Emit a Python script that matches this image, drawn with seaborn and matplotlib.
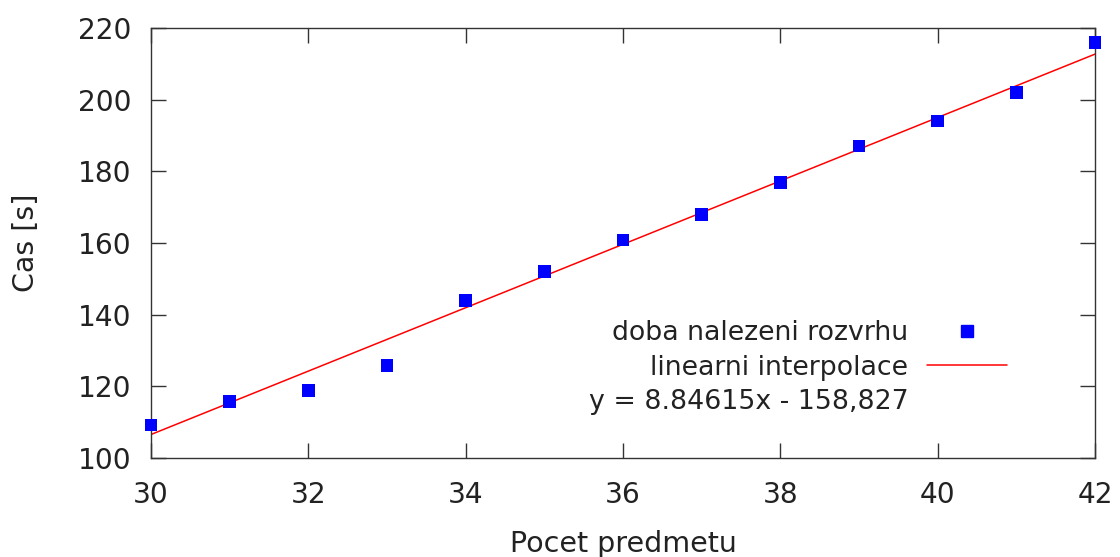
import matplotlib
matplotlib.use("Agg")
import matplotlib.pyplot as plt
from matplotlib.lines import Line2D
import seaborn as sns
import numpy as np
import pandas as pd

# data
pocet = [30, 31, 32, 33, 34, 35, 36, 37, 38, 39, 40, 41, 42]
cas = [109.2, 115.8, 118.8, 125.8, 143.9, 152.0, 160.9, 167.9, 176.9, 187.0, 194.0, 202.0, 216.0]
fit_slope = 8.84615
fit_intercept = -158.827
fit_x = [30, 42]
x_ticks = [30, 32, 34, 36, 38, 40, 42]
y_ticks = [100, 120, 140, 160, 180, 200, 220]
label_points = "doba nalezeni rozvrhu"
label_line = "linearni interpolace"
label_eq = "y = 8.84615x - 158,827"

sns.set_theme(style="ticks")
plt.rcParams['font.family'] = ['DejaVu Sans']

df = pd.DataFrame({"x": pocet, "y": cas})
fit_df = pd.DataFrame({"x": fit_x, "y": [fit_slope * v + fit_intercept for v in fit_x]})

fig = plt.figure(figsize=(11.2, 5.57), dpi=100)
ax = fig.add_axes([151 / 1120, 1 - 458 / 557, (1095 - 151) / 1120, (458 - 28) / 557])

sns.lineplot(data=fit_df, x="x", y="y", ax=ax, color="#ff0000", linewidth=1.1, zorder=2)
sns.scatterplot(data=df, x="x", y="y", ax=ax, marker="s", color="#0000ff", s=80,
                edgecolor="none", zorder=3, clip_on=False)

ax.set_xlim(30, 42)
ax.set_ylim(100, 220)
ax.set_xticks(x_ticks)
ax.set_yticks(y_ticks)
ax.tick_params(axis="both", which="both", direction="in", length=11, width=1,
               color="#333333", labelsize=20.2, labelcolor="#222222",
               top=True, right=True)
ax.tick_params(axis="x", pad=16.5)
ax.tick_params(axis="y", pad=14)
for s in ax.spines.values():
    s.set_visible(True)
    s.set_color("#333333")
    s.set_linewidth(1.0)

ax.set_xlabel("Pocet predmetu", fontsize=20.5, color="#222222", labelpad=15.5)
ax.set_ylabel("Cas [s]", fontsize=20.5, color="#222222", labelpad=27.5)

handles = [
    Line2D([], [], marker="s", color="#0000ff", linestyle="none", markersize=8.5),
    Line2D([], [], color="#ff0000", linewidth=1.1),
    Line2D([], [], linestyle="none", marker=None),
]
leg = ax.legend(handles, [label_points, label_line, label_eq], loc="lower right",
                bbox_to_anchor=(1007 / 1120 + 0.0, 1 - 415 / 557),
                bbox_transform=fig.transFigure,
                frameon=False, markerfirst=False, fontsize=19.3, handlelength=3.0,
                handletextpad=0.68, labelspacing=0.31, borderpad=0, borderaxespad=0)
for t in leg.get_texts():
    t.set_color("#222222")
    t.set_ha("right")

fig.savefig("out.png", dpi=100)
